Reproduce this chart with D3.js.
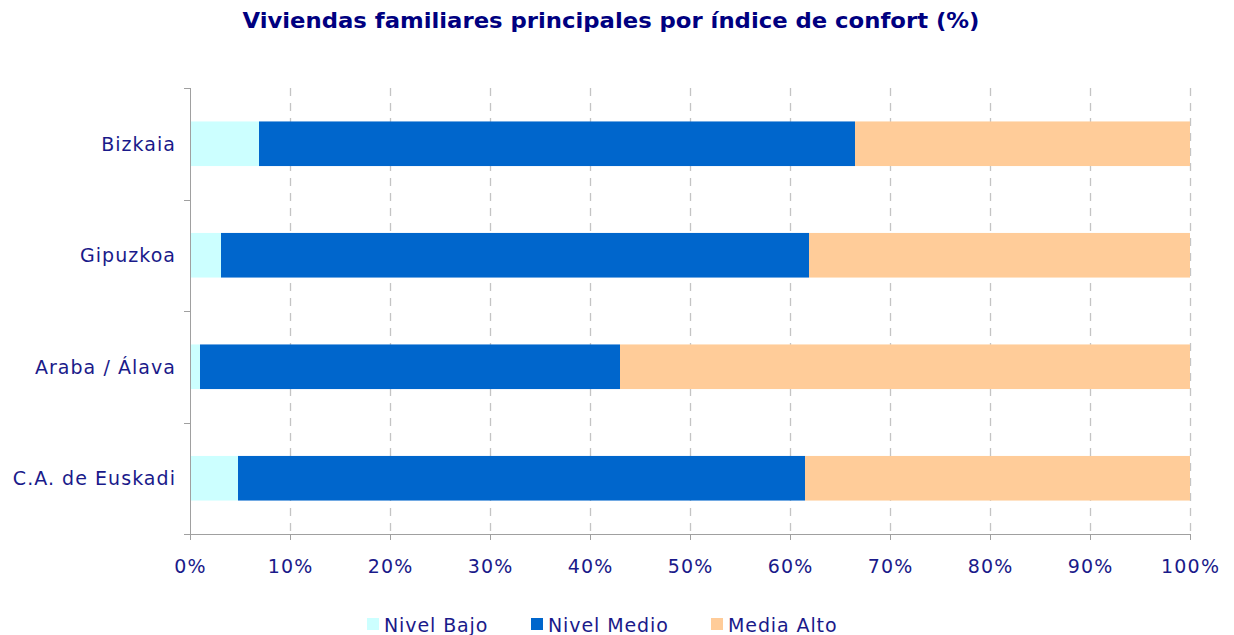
<!DOCTYPE html>
<html><head><meta charset="utf-8">
<script src="https://cdn.jsdelivr.net/npm/d3@7"></script>
<style>body{margin:0;background:#fff}svg{display:block}text{font-family:"DejaVu Sans",Verdana,sans-serif}</style>
</head><body><svg id="c" width="1234" height="635"></svg>
<script>
const categories = ["Bizkaia", "Gipuzkoa", "Araba / Álava", "C.A. de Euskadi"];
const seriesNames = ["Nivel Bajo", "Nivel Medio", "Media Alto"];
const nivelBajo = [6.9, 3.1, 1.0, 4.8];
const nivelMedio = [59.6, 58.8, 42.0, 56.7];
const mediaAlto = [33.5, 38.1, 57.0, 38.5];
const colors = ["#CCFFFF", "#0066CC", "#FFCC99"];
const xTicks = [0,10,20,30,40,50,60,70,80,90,100];

const svg = d3.select("#c");
const textColor = "#1a1a8a";
const x = d3.scaleLinear().domain([0,100]).range([190,1190]);
const y = d3.scaleBand().domain(categories).range([88,534]).paddingInner(0.6).paddingOuter(0.3);

// grid
svg.append("g").selectAll("line").data(xTicks.slice(1)).join("line")
  .attr("x1", d=>x(d)+0.5).attr("x2", d=>x(d)+0.5).attr("y1",88).attr("y2",534)
  .attr("stroke","#c4c4c4").attr("stroke-width",1.3).attr("stroke-dasharray","8,7");

const stackData = categories.map((c,i)=>({cat:c, "Nivel Bajo":nivelBajo[i], "Nivel Medio":nivelMedio[i], "Media Alto":mediaAlto[i]}));
const stack = d3.stack().keys(seriesNames)(stackData);
svg.append("g").selectAll("g").data(stack).join("g").attr("fill",(d,i)=>colors[i])
  .selectAll("rect").data(d=>d).join("rect")
  .attr("x", d=>x(d[0])).attr("width", d=>x(Math.min(d[1],100))-x(d[0]))
  .attr("y", d=>y(d.data.cat)).attr("height", y.bandwidth());

// axes
const axisColor = "#a0a0a0";
svg.append("line").attr("x1",190.5).attr("x2",190.5).attr("y1",88).attr("y2",534).attr("stroke",axisColor);
svg.append("line").attr("x1",190).attr("x2",1191).attr("y1",534.5).attr("y2",534.5).attr("stroke",axisColor);
svg.append("g").selectAll("line").data(d3.range(5)).join("line")
  .attr("x1",184).attr("x2",190).attr("y1",d=>Math.round(88+d*y.step())+0.5).attr("y2",d=>Math.round(88+d*y.step())+0.5).attr("stroke",axisColor);
svg.append("g").selectAll("line").data(xTicks).join("line")
  .attr("x1",d=>x(d)+0.5).attr("x2",d=>x(d)+0.5).attr("y1",534).attr("y2",540).attr("stroke",axisColor);

svg.append("g").selectAll("text").data(xTicks).join("text")
  .attr("x",d=>x(d)+0.6).attr("y",573).attr("text-anchor","middle")
  .attr("font-size",19).attr("letter-spacing",1.2).attr("fill",textColor).text(d=>d+"%");

svg.append("g").selectAll("text").data(categories).join("text")
  .attr("x",176).attr("y",d=>y(d)+y.bandwidth()/2).attr("dy","0.36em").attr("text-anchor","end")
  .attr("font-size",19).attr("letter-spacing",1.05).attr("fill",textColor).text(d=>d);

svg.append("text").attr("x",611).attr("y",28).attr("text-anchor","middle")
  .attr("font-size",21).attr("font-weight","bold").attr("fill","#000080")
  .attr("textLength",737).attr("lengthAdjust","spacingAndGlyphs")
  .text("Viviendas familiares principales por índice de confort (%)");

const legX = [367, 531, 711];
const lg = svg.append("g").selectAll("g").data(seriesNames).join("g")
  .attr("transform",(d,i)=>`translate(${legX[i]},618)`);
lg.append("rect").attr("width",12).attr("height",12).attr("fill",(d,i)=>colors[i]);
lg.append("text").attr("x",17).attr("y",14).attr("font-size",19).attr("letter-spacing",0.9).attr("fill",textColor).text(d=>d);
</script></body></html>
